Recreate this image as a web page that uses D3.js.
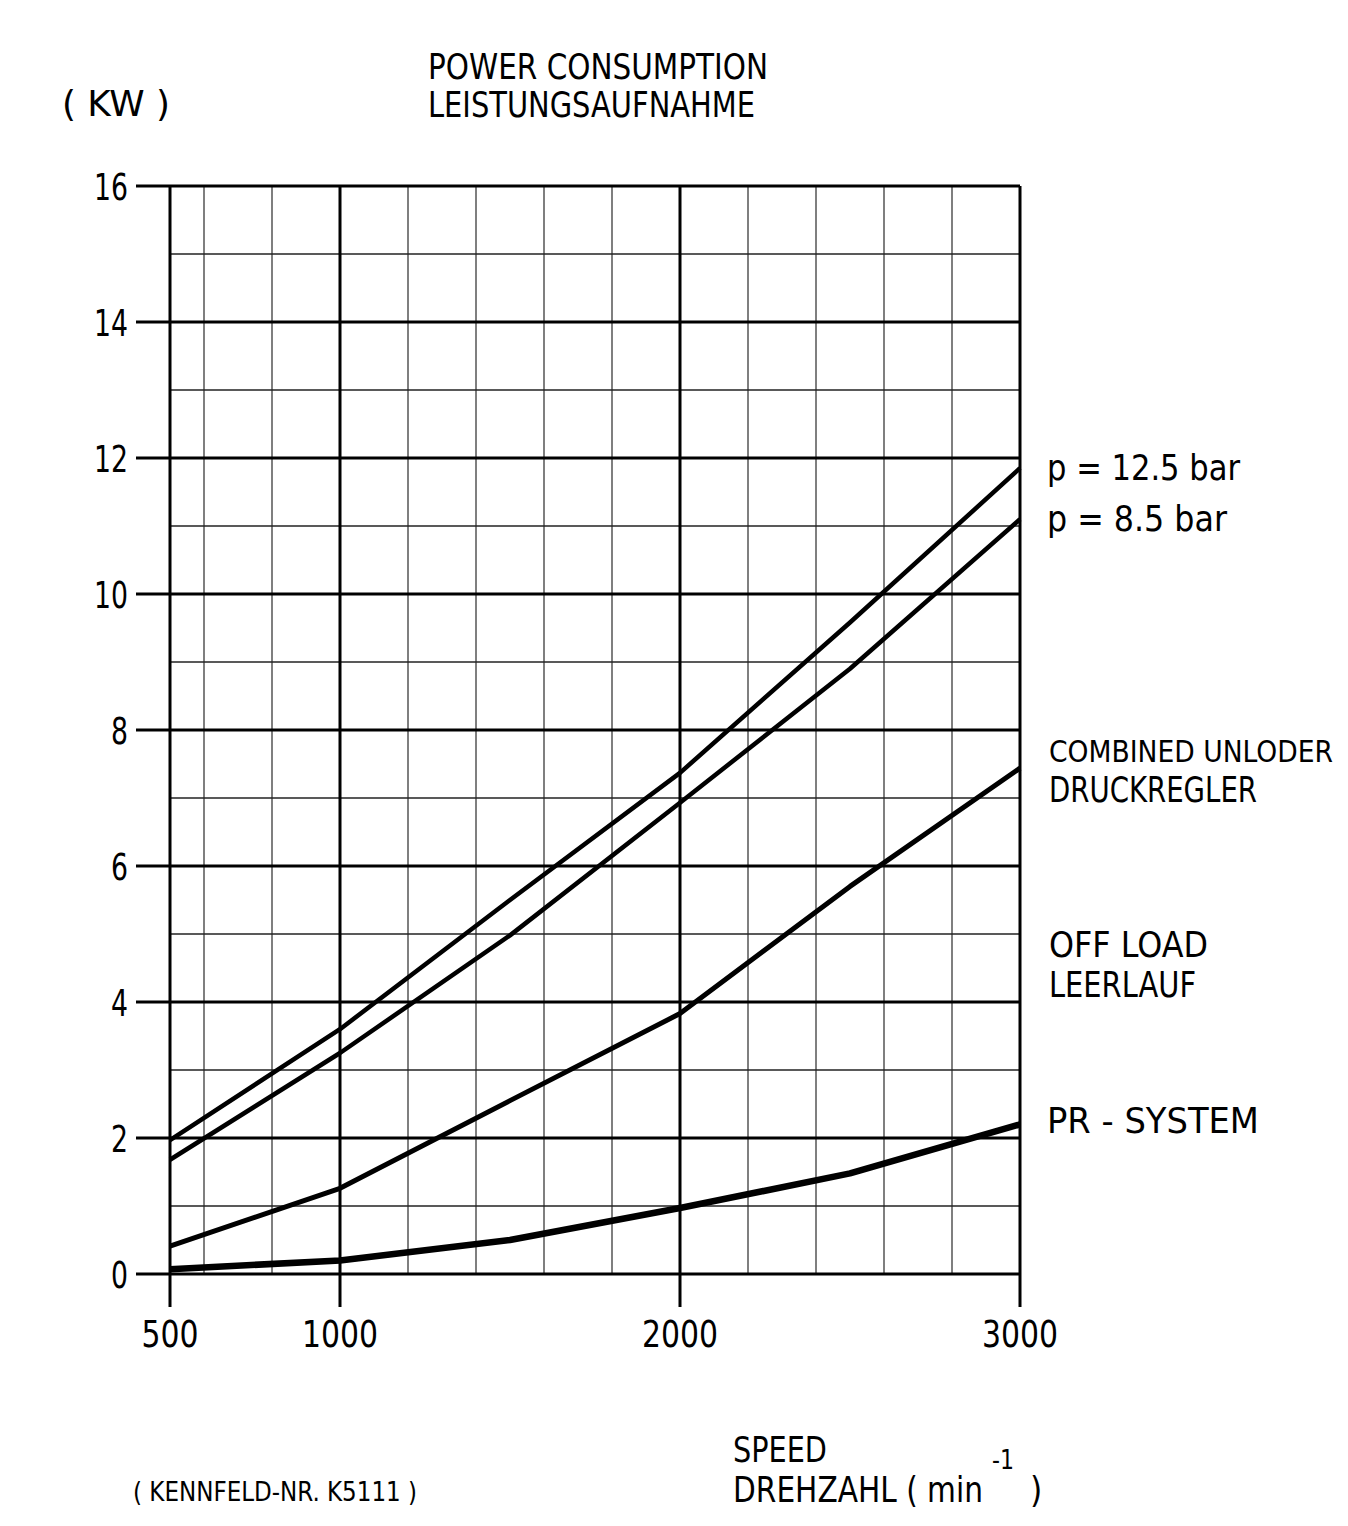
<!DOCTYPE html>
<html>
<head>
<meta charset="utf-8">
<script src="https://cdn.jsdelivr.net/npm/d3@7"></script>
<style>
  body { margin: 0; background: #fff; }
  text { font-family: "Liberation Sans Narrow", "DejaVu Sans Condensed", sans-serif; fill: #000; }
</style>
</head>
<body>
<div id="chart"></div>
<script>
// data
var speeds   = [500, 1000, 1500, 2000, 2500, 3000];
var p125     = [1.97, 3.6, 5.5, 7.37, 9.58, 11.85];
var p85      = [1.68, 3.25, 4.98, 6.93, 8.9, 11.1];
var combined = [0.41, 1.26, 2.55, 3.83, 5.7, 7.44];
var prSystem = [0.07, 0.2, 0.5, 0.97, 1.48, 2.2];

var xTicks      = [500, 1000, 2000, 3000];
var xMinor      = [600, 800, 1200, 1400, 1600, 1800, 2200, 2400, 2600, 2800];
var yTicks      = [0, 2, 4, 6, 8, 10, 12, 14, 16];
var yMinor      = [1, 3, 5, 7, 9, 11, 13, 15];

// set the dimensions and margins of the graph
var margin = {top: 186, left: 170},
    width = 850,
    height = 1088;

var svg = d3.select("#chart")
  .append("svg")
    .attr("width", 1348)
    .attr("height", 1526);

var g = svg.append("g")
    .attr("transform", "translate(" + margin.left + "," + margin.top + ")");

var xScale = d3.scaleLinear().domain([500, 3000]).range([0, width]);
var yScale = d3.scaleLinear().domain([0, 16]).range([height, 0]);

// minor grid
g.selectAll(".vminor")
    .data(xMinor)
    .enter().append("line")
    .attr("x1", d => xScale(d)).attr("x2", d => xScale(d))
    .attr("y1", 0).attr("y2", height)
    .style("stroke", "#555").style("stroke-width", 1.5);

g.selectAll(".hminor")
    .data(yMinor)
    .enter().append("line")
    .attr("x1", 0).attr("x2", width)
    .attr("y1", d => yScale(d)).attr("y2", d => yScale(d))
    .style("stroke", "#222").style("stroke-width", 1.5);

// major grid with ticks sticking out
g.selectAll(".hmajor")
    .data(yTicks)
    .enter().append("line")
    .attr("x1", -34).attr("x2", width)
    .attr("y1", d => yScale(d)).attr("y2", d => yScale(d))
    .style("stroke", "#000").style("stroke-width", 3);

g.selectAll(".vmajor")
    .data(xTicks)
    .enter().append("line")
    .attr("x1", d => xScale(d)).attr("x2", d => xScale(d))
    .attr("y1", 0).attr("y2", height + 33)
    .style("stroke", "#000").style("stroke-width", 3);

// tick labels (narrow digits like the plotter font)
g.selectAll(".ylab")
    .data(yTicks)
    .enter().append("text")
    .attr("x", -42)
    .attr("y", d => yScale(d) + 14)
    .attr("text-anchor", "end")
    .attr("textLength", d => String(d).length * 17)
    .attr("lengthAdjust", "spacingAndGlyphs")
    .style("font-size", "38px")
    .text(d => d);

g.selectAll(".xlab")
    .data(xTicks)
    .enter().append("text")
    .attr("x", d => xScale(d))
    .attr("y", height + 73)
    .attr("text-anchor", "middle")
    .attr("textLength", d => String(d).length * 19)
    .attr("lengthAdjust", "spacingAndGlyphs")
    .style("font-size", "38px")
    .text(d => d);

// curves
var line = d3.line()
    .x((d, i) => xScale(speeds[i]))
    .y(d => yScale(d));

var series = [
    {vals: p125, w: 4.5},
    {vals: p85, w: 4.5},
    {vals: combined, w: 5},
    {vals: prSystem, w: 6.5}
];

g.selectAll(".curve")
    .data(series)
    .enter().append("path")
    .attr("d", d => line(d.vals))
    .style("fill", "none")
    .style("stroke", "#000")
    .style("stroke-width", d => d.w)
    .style("stroke-linejoin", "round");

// texts
var labels = [
    {t: "( KW )", x: 62, y: 116, len: 108, fs: 35},
    {t: "POWER CONSUMPTION", x: 428, y: 79, len: 340, fs: 35},
    {t: "LEISTUNGSAUFNAHME", x: 428, y: 117, len: 327, fs: 35},
    {t: "p = 12.5 bar", x: 1047, y: 480, len: 193, fs: 35},
    {t: "p = 8.5 bar", x: 1047, y: 531, len: 180, fs: 35},
    {t: "COMBINED UNLODER", x: 1049, y: 762, len: 284, fs: 30},
    {t: "DRUCKREGLER", x: 1049, y: 802, len: 208, fs: 35},
    {t: "OFF LOAD", x: 1049, y: 957, len: 159, fs: 35},
    {t: "LEERLAUF", x: 1049, y: 997, len: 147, fs: 35},
    {t: "PR - SYSTEM", x: 1047, y: 1133, len: 212, fs: 35},
    {t: "SPEED", x: 733, y: 1462, len: 94, fs: 35},
    {t: "DREHZAHL ( min", x: 733, y: 1502, len: 250, fs: 35}
];

svg.selectAll(".lab")
    .data(labels)
    .enter().append("text")
    .attr("x", d => d.x)
    .attr("y", d => d.y)
    .attr("textLength", d => d.len)
    .attr("lengthAdjust", "spacingAndGlyphs")
    .style("font-size", d => d.fs + "px")
    .text(d => d.t);

svg.append("text")
    .attr("x", 992).attr("y", 1469)
    .attr("textLength", 22).attr("lengthAdjust", "spacingAndGlyphs")
    .style("font-size", "26px")
    .text("-1");

svg.append("text")
    .attr("x", 1030).attr("y", 1502)
    .style("font-size", "35px")
    .text(")");

svg.append("text")
    .attr("x", 133).attr("y", 1501)
    .attr("textLength", 284).attr("lengthAdjust", "spacingAndGlyphs")
    .style("font-size", "27px")
    .text("( KENNFELD-NR.  K5111 )");
</script>
</body>
</html>
